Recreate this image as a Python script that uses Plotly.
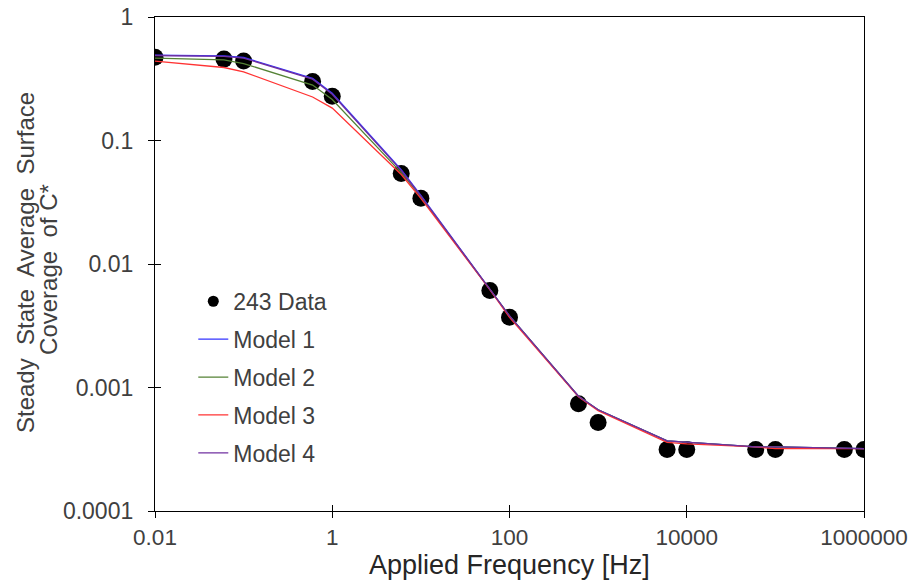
import plotly.graph_objects as go

freq = [0.01, 0.06, 0.1, 0.6, 1, 6, 10, 60, 100, 600, 1000, 6000, 10000,
        60000, 100000, 600000, 1000000]
data_243 = [0.473, 0.456, 0.44, 0.30, 0.228, 0.054, 0.034, 0.0061, 0.0037,
            0.00074, 0.00052, 0.000315, 0.000315, 0.000315, 0.000315,
            0.000315, 0.000315]
model_1 = [0.49, 0.485, 0.47, 0.318, 0.241, 0.058, 0.036, 0.0063, 0.0038,
           0.00085, 0.00066, 0.00037, 0.00036, 0.00033, 0.00033, 0.00032,
           0.00032]
model_2 = [0.465, 0.45, 0.42, 0.281, 0.215, 0.055, 0.035, 0.0063, 0.0038,
           0.00085, 0.00066, 0.00037, 0.00036, 0.00033, 0.00033, 0.00032,
           0.00032]
model_3 = [0.44, 0.39, 0.36, 0.225, 0.183, 0.053, 0.034, 0.0062, 0.0037,
           0.00084, 0.00065, 0.00036, 0.00035, 0.00033, 0.00032, 0.00032,
           0.00032]
model_4 = [0.488, 0.48, 0.465, 0.314, 0.237, 0.057, 0.0355, 0.0063, 0.0038,
           0.00085, 0.00066, 0.00037, 0.00036, 0.00033, 0.00033, 0.00032,
           0.00032]

x_ticks = [0.01, 1, 100, 10000, 1000000]
x_tick_labels = ["0.01", "1", "100", "10000", "1000000"]
y_ticks = [0.0001, 0.001, 0.01, 0.1, 1]
y_tick_labels = ["0.0001", "0.001", "0.01", "0.1", "1"]

x_title = "Applied Frequency [Hz]"
y_title_1 = "Steady\u00a0 State\u00a0 Average\u00a0 Surface"
y_title_2 = "Coverage\u00a0 of C*"

FONT = "Arial, Liberation Sans, sans-serif"
TXT = "#404040"
TITLE = "#262626"

W, H = 913, 585
L, T = 155, 17
PW, PH = 709, 494

fig = go.Figure()
models = [("Model 1", model_1, "#3333ff"), ("Model 2", model_2, "#548235"),
          ("Model 3", model_3, "#ff3333"), ("Model 4", model_4, "#7030a0")]

fig.add_trace(go.Scatter(x=freq, y=data_243, mode="markers", name="243 Data",
                         marker=dict(color="black", size=17), showlegend=False))
fig.add_trace(go.Scatter(x=[None], y=[None], mode="markers", name="243 Data",
                         marker=dict(color="black", size=11), legendgroup="d"))
for name, vals, col in models:
    fig.add_trace(go.Scatter(x=freq, y=vals, mode="lines", name=name,
                             line=dict(color=col, width=1.3), legendgroup=name))

axis_common = dict(type="log", showgrid=False, zeroline=False, showline=True,
                   linecolor="black", linewidth=1.3, mirror=True,
                   ticks="outside", ticklen=6, tickcolor="black", tickwidth=1,
                   automargin=False, ticklabeloverflow="allow")

fig.update_layout(
    width=W, height=H,
    margin=dict(l=L, r=W - L - PW, t=T, b=H - T - PH),
    paper_bgcolor="white", plot_bgcolor="white",
    font=dict(family=FONT, color=TXT),
    xaxis=dict(axis_common, range=[-2, 6], tickvals=x_ticks,
               ticktext=x_tick_labels,
               tickfont=dict(family=FONT, size=22.5, color=TXT)),
    yaxis=dict(axis_common, range=[-4, 0], tickvals=y_ticks,
               ticktext=y_tick_labels, ticklabelstandoff=10,
               tickfont=dict(family=FONT, size=23, color=TXT)),
    xaxis2=dict(type="log", range=[-2, 6], overlaying="x", anchor="y",
                showgrid=False, zeroline=False, showline=False,
                ticks="inside", ticklen=6, tickcolor="black",
                tickvals=x_ticks, showticklabels=False),
    yaxis2=dict(type="log", range=[-4, 0], overlaying="y", anchor="x",
                showgrid=False, zeroline=False, showline=False,
                ticks="inside", ticklen=6, tickcolor="black",
                tickvals=y_ticks, showticklabels=False),
    legend=dict(x=0.054, y=0.468, xanchor="left", yanchor="top",
                bgcolor="rgba(0,0,0,0)", tracegroupgap=5,
                font=dict(family=FONT, size=23, color=TXT)),
    showlegend=True,
)
fig.add_trace(go.Scatter(x=[None], y=[None], xaxis="x2", yaxis="y2",
                         showlegend=False, hoverinfo="skip"))

fig.add_annotation(text=x_title, xref="paper", yref="paper", x=0.5, y=-0.109,
                   xanchor="center", yanchor="middle", showarrow=False,
                   font=dict(family=FONT, size=27, color=TITLE))
fig.add_annotation(text=y_title_1, xref="paper", yref="paper",
                   x=(25 - 155) / PW, y=0.502, xanchor="center",
                   yanchor="middle", textangle=-90, showarrow=False,
                   font=dict(family=FONT, size=24, color=TXT))
fig.add_annotation(text=y_title_2, xref="paper", yref="paper",
                   x=(49 - 155) / PW, y=0.488, xanchor="center",
                   yanchor="middle", textangle=-90, showarrow=False,
                   font=dict(family=FONT, size=24, color=TXT))

fig.write_html("out.html",
               config={"displayModeBar": False},
               post_script="document.body.style.margin='0px';"
                           "document.body.style.overflow='hidden';")
